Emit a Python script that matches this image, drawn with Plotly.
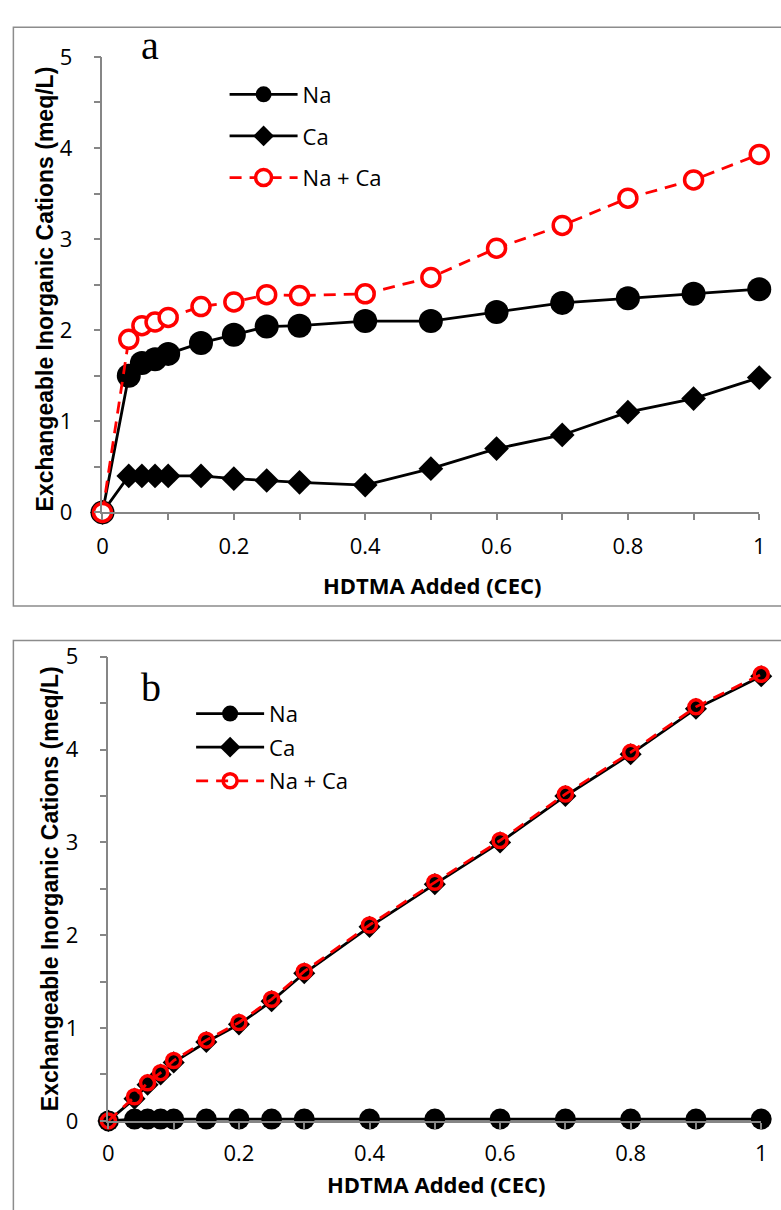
import plotly.graph_objects as go

# ---------------- data ----------------
hdtma = [0, 0.04, 0.06, 0.08, 0.1, 0.15, 0.2, 0.25, 0.3, 0.4, 0.5, 0.6, 0.7, 0.8, 0.9, 1.0]

# panel a
na_a = [0, 1.50, 1.64, 1.68, 1.74, 1.86, 1.95, 2.04, 2.05, 2.10, 2.10, 2.20, 2.30, 2.35, 2.40, 2.45]
ca_a = [0, 0.40, 0.40, 0.40, 0.40, 0.40, 0.37, 0.35, 0.33, 0.30, 0.48, 0.70, 0.85, 1.10, 1.25, 1.48]
sum_a = [0, 1.90, 2.05, 2.09, 2.14, 2.26, 2.31, 2.39, 2.38, 2.40, 2.58, 2.90, 3.15, 3.45, 3.65, 3.93]

# panel b
na_b = [0, 0.02, 0.02, 0.02, 0.02, 0.02, 0.02, 0.02, 0.02, 0.02, 0.02, 0.02, 0.02, 0.02, 0.02, 0.02]
ca_b = [0, 0.24, 0.39, 0.50, 0.63, 0.85, 1.04, 1.29, 1.59, 2.09, 2.55, 3.00, 3.50, 3.95, 4.44, 4.79]
sum_b = [0, 0.26, 0.41, 0.52, 0.65, 0.87, 1.06, 1.31, 1.61, 2.11, 2.57, 3.02, 3.52, 3.97, 4.46, 4.81]

y_ticks = [0, 1, 2, 3, 4, 5]
x_ticks = [0, 0.2, 0.4, 0.6, 0.8, 1]
x_tick_text = ["0", "0.2", "0.4", "0.6", "0.8", "1"]
panel_labels = ["a", "b"]
series_names = ["Na", "Ca", "Na + Ca"]
x_title = "HDTMA Added (CEC)"
y_title = "Exchangeable Inorganic Cations (meq/L)"

W, H = 781, 1210
TICK_FONT = dict(family="Open Sans, Liberation Sans, sans-serif", size=22, color="#000000")
AXIS_GRAY = "#868686"
RED = "#FF0000"

fig = go.Figure()

def add_panel(xa, ya, na, ca, sm, legend, big):
    if big:
        na_sz, ca_sz, sm_sz, lw, sm_lw, sm_fill = 24, 19, 18, 2.8, 3.5, "#FFFFFF"
    else:
        na_sz, ca_sz, sm_sz, lw, sm_lw, sm_fill = 21, 17, 14, 2.8, 3.5, "rgba(0,0,0,0)"
    fig.add_trace(go.Scatter(
        x=hdtma, y=na, name=series_names[0], xaxis=xa, yaxis=ya, mode="lines+markers",
        line=dict(color="#000000", width=lw),
        marker=dict(symbol="circle", size=na_sz, color="#000000"),
        cliponaxis=False, legend=legend, legendgroup=legend + "1"))
    fig.add_trace(go.Scatter(
        x=hdtma, y=ca, name=series_names[1], xaxis=xa, yaxis=ya, mode="lines+markers",
        line=dict(color="#000000", width=lw),
        marker=dict(symbol="diamond", size=ca_sz, color="#000000"),
        cliponaxis=False, legend=legend, legendgroup=legend + "2"))
    fig.add_trace(go.Scatter(
        x=hdtma, y=sm, name=series_names[2], xaxis=xa, yaxis=ya, mode="lines+markers",
        line=dict(color=RED, width=lw, dash="12px,8px"),
        marker=dict(symbol="circle", size=sm_sz, color=sm_fill,
                    line=dict(color=RED, width=sm_lw)),
        cliponaxis=False, legend=legend, legendgroup=legend + "3"))

add_panel("x", "y", na_a, ca_a, sum_a, "legend", True)
add_panel("x2", "y2", na_b, ca_b, sum_b, "legend2", False)

def px_x(p):
    return p / W

def px_y(p):
    return 1 - p / H

def xaxis(domain, standoff):
    return dict(domain=domain, range=[0, 1], tickvals=x_ticks, ticktext=x_tick_text,
                ticks="outside", ticklen=6, tickwidth=1.5, tickcolor=AXIS_GRAY,
                showline=True, linecolor=AXIS_GRAY, linewidth=1.5,
                showgrid=False, zeroline=False, tickfont=TICK_FONT,
                ticklabelstandoff=standoff,
                minor=dict(dtick=0.1, ticks="outside", ticklen=6, tickwidth=1.5,
                           tickcolor=AXIS_GRAY, showgrid=False))

def yaxis(domain, anchor, standoff):
    return dict(domain=domain, range=[0, 5], tickvals=y_ticks, anchor=anchor,
                ticks="outside", ticklen=7, tickwidth=1.5, tickcolor=AXIS_GRAY,
                showline=True, linecolor=AXIS_GRAY, linewidth=1.5,
                showgrid=False, zeroline=False, tickfont=TICK_FONT,
                ticklabelstandoff=standoff,
                minor=dict(dtick=0.5, ticks="outside", ticklen=7, tickwidth=1.5,
                           tickcolor=AXIS_GRAY, showgrid=False))

fig.update_layout(
    width=W, height=H, margin=dict(l=0, r=0, t=0, b=0),
    paper_bgcolor="#FFFFFF", plot_bgcolor="rgba(0,0,0,0)",
    xaxis=xaxis([px_x(98), px_x(765)], 7) | dict(anchor="y"),
    yaxis=yaxis([px_y(509), px_y(42)], "x", 17),
    xaxis2=xaxis([px_x(104), px_x(767)], 6) | dict(anchor="y2"),
    yaxis2=yaxis([px_y(1133), px_y(657)], "x2", 17),
    legend=dict(x=px_x(222), y=px_y(59), xanchor="left", yanchor="top",
                bgcolor="rgba(0,0,0,0)", borderwidth=0, tracegroupgap=10,
                traceorder="grouped", font=TICK_FONT, itemsizing="trace", itemwidth=68),
    legend2=dict(x=px_x(188), y=px_y(694), xanchor="left", yanchor="top",
                 bgcolor="rgba(0,0,0,0)", borderwidth=0, tracegroupgap=2,
                 traceorder="grouped", font=TICK_FONT, itemsizing="trace", itemwidth=68),
)

# panel borders
fig.add_shape(type="rect", xref="paper", yref="paper",
              x0=px_x(7.5), x1=px_x(790), y0=px_y(605), y1=px_y(11.5),
              line=dict(color="#8C8C8C", width=1.5), fillcolor="rgba(0,0,0,0)", layer="below")
fig.add_shape(type="rect", xref="paper", yref="paper",
              x0=px_x(7.5), x1=px_x(790), y0=px_y(1230), y1=px_y(640.5),
              line=dict(color="#8C8C8C", width=1.5), fillcolor="rgba(0,0,0,0)", layer="below")

TITLE_FONT_X = dict(family="Open Sans, Liberation Sans, sans-serif", size=22, color="#000000")
TITLE_FONT_Y = dict(family="Liberation Sans, Arial, sans-serif", size=23, color="#000000")
LABEL_FONT = dict(family="Liberation Serif, DejaVu Serif, serif", size=40, color="#000000")

ann = [
    dict(x=px_x(433), y=px_y(583), text="<b>" + x_title + "</b>", font=TITLE_FONT_X),
    dict(x=px_x(437), y=px_y(1197.5), text="<b>" + x_title + "</b>", font=TITLE_FONT_X),
    dict(x=px_x(40), y=px_y(280), text="<b>" + y_title + "</b>", font=TITLE_FONT_Y, textangle=-90),
    dict(x=px_x(44), y=px_y(895), text="<b>" + y_title + "</b>", font=TITLE_FONT_Y, textangle=-90),
    dict(x=px_x(146), y=px_y(30), text=panel_labels[0], font=LABEL_FONT),
    dict(x=px_x(147), y=px_y(689), text=panel_labels[1], font=LABEL_FONT),
]
for a in ann:
    fig.add_annotation(xref="paper", yref="paper", showarrow=False, borderpad=0,
                       xanchor="center", yanchor="middle", **a)

fig.write_html("out.html")
